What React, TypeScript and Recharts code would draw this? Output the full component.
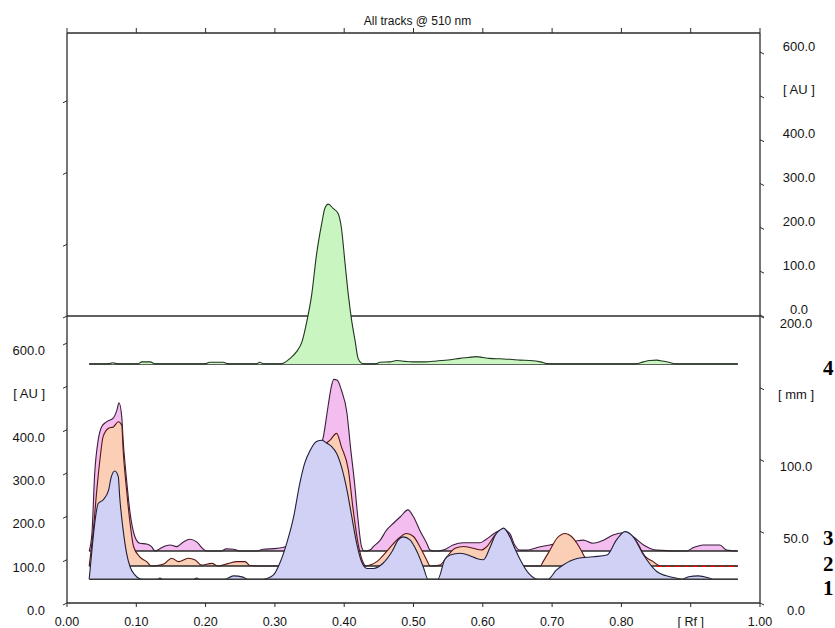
import React from 'react';
import { ComposedChart, Area, XAxis, YAxis } from 'recharts';

const TITLE = 'All tracks @ 510 nm';
const X_TICKS = [0, 0.1, 0.2, 0.3, 0.4, 0.5, 0.6, 0.7, 0.8, 0.9, 1.0];
const X_TICK_LABELS = ['0.00', '0.10', '0.20', '0.30', '0.40', '0.50', '0.60', '0.70', '0.80', '[ Rf ]', '1.00'];
const AU_TICKS = [0, 100, 200, 300, 400, 500, 600];
const AU_TICK_LABELS = ['0.0', '100.0', '200.0', '300.0', '400.0', '[ AU ]', '600.0'];
const MM_TICKS = [0, 50, 100, 150, 200];
const MM_TICK_LABELS = ['0.0', '50.0', '100.0', '[ mm ]', '200.0'];
const MM_LEFT_UPPER_TICKS = [200, 250, 300, 350];
const TRACK_NAMES = ['1', '2', '3', '4'];

// scale relations (lower-left AU scale is the plotting scale)
const Y_MAX = 1315.4;
const MM_TO_AU = 3.3115;
const TOP_ZERO = 664.6;
const TOP_SCALE = 1.0115;
const DIVIDER = 662.3;
const RF_START = 0.032;
const RF_END = 0.968;

// baselines of each track (AU, lower-left scale)
const OFFSET_1 = 54.7;
const OFFSET_2 = 85.4;
const OFFSET_3 = 120;
const OFFSET_4 = 551.5;

// [Rf, signal AU above the track baseline]
const TRACK_1: [number, number][] = [
  [0.032, 0], [0.036, 68], [0.040, 129], [0.045, 175], [0.052, 183], [0.060, 206], [0.064, 237], [0.069, 250],
  [0.074, 237], [0.076, 191], [0.081, 114], [0.086, 60], [0.091, 29], [0.098, 10], [0.108, 0], [0.130, 0],
  [0.134, 3], [0.139, 0], [0.182, 0], [0.187, 3], [0.192, 0], [0.228, 0], [0.240, 8], [0.254, 5], [0.261, 0],
  [0.281, 0], [0.288, 2], [0.298, 10], [0.307, 37], [0.317, 83], [0.327, 144], [0.336, 222], [0.343, 268],
  [0.351, 298], [0.360, 318], [0.368, 321], [0.375, 314], [0.382, 306], [0.389, 291], [0.396, 260], [0.404, 206],
  [0.411, 144], [0.418, 83], [0.425, 41], [0.433, 25], [0.442, 25], [0.456, 37], [0.469, 64], [0.478, 91],
  [0.485, 98], [0.495, 91], [0.505, 64], [0.514, 29], [0.521, 0], [0.535, 0], [0.545, 45], [0.553, 56],
  [0.567, 60], [0.582, 54], [0.591, 48], [0.601, 45], [0.610, 72], [0.618, 102], [0.625, 114], [0.630, 118],
  [0.639, 98], [0.646, 72], [0.654, 45], [0.666, 14], [0.675, 2], [0.680, 0], [0.694, 0], [0.706, 21],
  [0.716, 33], [0.736, 48], [0.759, 52], [0.779, 56], [0.793, 91], [0.805, 110], [0.817, 98], [0.832, 56],
  [0.851, 18], [0.870, 6], [0.882, 2], [0.887, 0], [0.897, 6], [0.911, 8], [0.928, 2], [0.932, 0], [0.968, 0],
];

const TRACK_2: [number, number][] = [
  [0.032, 0], [0.038, 83], [0.043, 175], [0.048, 252], [0.052, 298], [0.060, 318], [0.067, 321], [0.074, 333],
  [0.079, 325], [0.081, 268], [0.086, 175], [0.091, 99], [0.096, 45], [0.105, 21], [0.115, 10], [0.122, 0],
  [0.134, 2], [0.141, 6], [0.151, 18], [0.161, 10], [0.175, 18], [0.185, 14], [0.194, 2], [0.209, 6], [0.218, 0],
  [0.233, 6], [0.245, 10], [0.257, 10], [0.264, 1], [0.278, 0], [0.307, 0], [0.329, 60], [0.343, 141],
  [0.358, 222], [0.372, 279], [0.380, 291], [0.389, 306], [0.396, 275], [0.406, 222], [0.413, 129], [0.420, 52],
  [0.428, 6], [0.432, 0], [0.437, 2], [0.447, 10], [0.461, 33], [0.476, 60], [0.490, 75], [0.500, 68],
  [0.509, 45], [0.519, 14], [0.524, 0], [0.538, 2], [0.548, 21], [0.560, 41], [0.572, 45], [0.586, 41],
  [0.598, 37], [0.606, 45], [0.618, 72], [0.629, 83], [0.639, 67], [0.651, 14], [0.661, 0], [0.683, 0],
  [0.687, 10], [0.697, 37], [0.707, 64], [0.719, 75], [0.728, 68], [0.736, 52], [0.743, 33], [0.747, 21],
  [0.762, 9], [0.776, 14], [0.791, 41], [0.805, 72], [0.820, 60], [0.834, 23], [0.846, 10], [0.856, 0], [0.968, 0],
];

const TRACK_3: [number, number][] = [
  [0.032, 0], [0.036, 41], [0.040, 180], [0.045, 256], [0.050, 287], [0.057, 298], [0.067, 307], [0.072, 325],
  [0.075, 342], [0.079, 310], [0.081, 256], [0.086, 164], [0.091, 88], [0.098, 33], [0.105, 18], [0.115, 16],
  [0.122, 10], [0.127, 0], [0.134, 5], [0.139, 10], [0.149, 14], [0.158, 10], [0.168, 21], [0.177, 27],
  [0.187, 21], [0.197, 4], [0.202, 0], [0.222, 0], [0.230, 5], [0.240, 4], [0.250, 0], [0.275, 0], [0.283, 4],
  [0.303, 6], [0.317, 11], [0.329, 48], [0.343, 129], [0.358, 210], [0.370, 264], [0.377, 337], [0.381, 376],
  [0.385, 396], [0.390, 394], [0.396, 371], [0.404, 318], [0.409, 241], [0.415, 156], [0.420, 72], [0.425, 10],
  [0.429, 0], [0.437, 2], [0.442, 10], [0.452, 25], [0.461, 48], [0.471, 64], [0.481, 79], [0.492, 95],
  [0.500, 79], [0.509, 48], [0.519, 18], [0.524, 2], [0.531, 0], [0.543, 2], [0.557, 14], [0.572, 19],
  [0.596, 19], [0.603, 25], [0.618, 42], [0.629, 50], [0.639, 40], [0.646, 14], [0.654, 2], [0.663, 2],
  [0.683, 10], [0.697, 14], [0.711, 18], [0.733, 23], [0.745, 25], [0.759, 18], [0.774, 25], [0.788, 37],
  [0.805, 42], [0.817, 33], [0.832, 14], [0.851, 2], [0.894, 0], [0.904, 8], [0.918, 14], [0.942, 14],
  [0.952, 2], [0.968, 0],
];

const TRACK_4: [number, number][] = [
  [0.032, 0], [0.059, 0], [0.066, 3], [0.074, 0], [0.102, 0], [0.108, 5], [0.120, 5], [0.128, 0], [0.198, 0],
  [0.206, 4], [0.225, 4], [0.234, 0], [0.273, 0], [0.278, 4], [0.284, 0], [0.304, 0], [0.312, 2], [0.322, 13],
  [0.331, 28], [0.339, 51], [0.346, 98], [0.353, 159], [0.360, 252], [0.368, 328], [0.372, 359], [0.377, 369],
  [0.384, 359], [0.391, 348], [0.396, 314], [0.401, 236], [0.406, 159], [0.411, 98], [0.416, 51], [0.420, 13],
  [0.425, 2], [0.429, 0], [0.444, 0], [0.452, 4], [0.466, 5], [0.476, 8], [0.488, 6], [0.499, 5], [0.517, 5],
  [0.533, 7], [0.553, 10], [0.567, 13], [0.579, 15], [0.591, 17], [0.600, 15], [0.610, 13], [0.625, 12],
  [0.639, 11], [0.654, 9], [0.668, 8], [0.683, 5], [0.695, 0], [0.820, 0], [0.832, 5], [0.841, 8], [0.851, 9],
  [0.859, 7], [0.868, 4], [0.880, 0], [0.968, 0],
];

const toRows = (pts: [number, number][], off: number) => pts.map(([rf, h]) => ({ rf, v: off + h }));
const baseRows = (off: number, a = RF_START, b = RF_END) => [{ rf: a, v: off }, { rf: b, v: off }];

const rows1 = toRows(TRACK_1, OFFSET_1);
const rows2 = toRows(TRACK_2, OFFSET_2);
const rows3 = toRows(TRACK_3, OFFSET_3);
const rows4 = toRows(TRACK_4, OFFSET_4);

const FONT = '"Liberation Sans", Arial, sans-serif';
const AXIS = '#2b2b2b';
const TXT = '#141414';

type Def = { v: number; label: string; above: boolean };
const leftDefs: Def[] = [
  ...AU_TICKS.map((t, i) => ({ v: t, label: AU_TICK_LABELS[i], above: false })),
  ...MM_LEFT_UPPER_TICKS.map((m) => ({ v: m * MM_TO_AU, label: '', above: false })),
];
const rightDefs: Def[] = [
  ...MM_TICKS.map((m, i) => ({ v: m * MM_TO_AU, label: MM_TICK_LABELS[i], above: false })),
  ...AU_TICKS.map((t, i) => ({ v: TOP_ZERO + t * TOP_SCALE, label: AU_TICK_LABELS[i], above: true })),
];
const findDef = (defs: Def[], v: number) => defs.find((d) => Math.abs(d.v - v) < 0.05);

const LeftTick = (props: any) => {
  const { x, y, payload } = props;
  const d = findDef(leftDefs, payload.value);
  return (
    <g>
      <line x1={x - 4} y1={y + 2} x2={x} y2={y} stroke={AXIS} strokeWidth={1} />
      {d && d.label ? (
        <text x={x - 22} y={y + 12} textAnchor="end" fontSize={13} fontFamily={FONT} fill={TXT}>
          {d.label}
        </text>
      ) : null}
    </g>
  );
};

const RightTick = (props: any) => {
  const { x, y, payload } = props;
  const d = findDef(rightDefs, payload.value);
  if (!d) return <g />;
  return (
    <g>
      <line x1={x} y1={y} x2={x + 4} y2={y + 2} stroke={AXIS} strokeWidth={1} />
      <text
        x={d.above ? x + 39 : x + 36}
        y={d.above ? y - 1.5 : y + 11.5}
        textAnchor="middle"
        fontSize={13}
        fontFamily={FONT}
        fill={TXT}
      >
        {d.label}
      </text>
    </g>
  );
};

const BottomTick = (props: any) => {
  const { x, y, payload } = props;
  const i = X_TICKS.findIndex((t) => Math.abs(t - payload.value) < 1e-6);
  return (
    <g>
      <line x1={x} y1={y} x2={x} y2={y + 4} stroke={AXIS} strokeWidth={1} />
      <text x={x} y={y + 23} textAnchor="middle" fontSize={12.5} fontFamily={FONT} fill={TXT}>
        {i >= 0 ? X_TICK_LABELS[i] : ''}
      </text>
    </g>
  );
};

const TopTick = (props: any) => {
  const { x, y } = props;
  return <line x1={x} y1={y} x2={x} y2={y - 5} stroke={AXIS} strokeWidth={1} />;
};

export default function App() {
  return (
    <div style={{ position: 'absolute', left: 0, top: 0, width: 835, height: 628, background: '#fff' }}>
      <ComposedChart width={835} height={628} margin={{ top: 0, right: 0, bottom: 0, left: 0 }}>
        <XAxis
          xAxisId="b"
          dataKey="rf"
          type="number"
          domain={[0, 1]}
          ticks={X_TICKS}
          interval={0}
          height={25}
          tickSize={0}
          tickMargin={0}
          tickLine={false}
          tick={<BottomTick />}
          axisLine={{ stroke: AXIS, strokeWidth: 1.3 }}
          allowDataOverflow
        />
        <XAxis
          xAxisId="t"
          orientation="top"
          dataKey="rf"
          type="number"
          domain={[0, 1]}
          ticks={X_TICKS}
          interval={0}
          height={33}
          tickSize={0}
          tickMargin={0}
          tickLine={false}
          tick={<TopTick />}
          axisLine={{ stroke: AXIS, strokeWidth: 1.3 }}
          allowDataOverflow
        />
        <YAxis
          yAxisId="l"
          type="number"
          domain={[0, Y_MAX]}
          ticks={leftDefs.map((d) => d.v)}
          interval={0}
          width={67}
          tickSize={0}
          tickMargin={0}
          tickLine={false}
          tick={<LeftTick />}
          axisLine={{ stroke: AXIS, strokeWidth: 1.3 }}
          allowDataOverflow
        />
        <YAxis
          yAxisId="r"
          orientation="right"
          type="number"
          domain={[0, Y_MAX]}
          ticks={rightDefs.map((d) => d.v)}
          interval={0}
          width={75}
          tickSize={0}
          tickMargin={0}
          tickLine={false}
          tick={<RightTick />}
          axisLine={{ stroke: AXIS, strokeWidth: 1.3 }}
          allowDataOverflow
        />

        {/* divider between the two panels */}
        <Area xAxisId="b" yAxisId="r" data={baseRows(DIVIDER, 0, 1)} dataKey="v" type="linear" fill="none" stroke={AXIS} strokeWidth={1.3} isAnimationActive={false} dot={false} activeDot={false} />

        {/* track 3 */}
        <Area xAxisId="b" yAxisId="l" data={rows3} dataKey="v" type="monotone" baseValue={OFFSET_3} fill="#f3bdef" fillOpacity={1} stroke="#3b1f3b" strokeWidth={1.1} isAnimationActive={false} dot={false} activeDot={false} />
        <Area xAxisId="b" yAxisId="l" data={baseRows(OFFSET_3)} dataKey="v" type="linear" fill="none" stroke="#2a2a2a" strokeWidth={1.3} isAnimationActive={false} dot={false} activeDot={false} />

        {/* track 2 */}
        <Area xAxisId="b" yAxisId="l" data={rows2} dataKey="v" type="monotone" baseValue={OFFSET_2} fill="#fbcfb6" fillOpacity={1} stroke="#5a1414" strokeWidth={1.1} isAnimationActive={false} dot={false} activeDot={false} />
        <Area xAxisId="b" yAxisId="l" data={baseRows(OFFSET_2)} dataKey="v" type="linear" fill="none" stroke="#2a2a2a" strokeWidth={1.3} isAnimationActive={false} dot={false} activeDot={false} />
        <Area xAxisId="b" yAxisId="l" data={baseRows(OFFSET_2 - 0.8, 0.85, RF_END)} dataKey="v" type="linear" fill="none" stroke="#e01010" strokeDasharray="6 3" strokeWidth={1.2} isAnimationActive={false} dot={false} activeDot={false} />

        {/* track 1 */}
        <Area xAxisId="b" yAxisId="l" data={rows1} dataKey="v" type="monotone" baseValue={OFFSET_1} fill="#d0d1f4" fillOpacity={1} stroke="#1f1f3a" strokeWidth={1.1} isAnimationActive={false} dot={false} activeDot={false} />
        <Area xAxisId="b" yAxisId="l" data={baseRows(OFFSET_1)} dataKey="v" type="linear" fill="none" stroke="#3a3a3a" strokeWidth={1.5} isAnimationActive={false} dot={false} activeDot={false} />

        {/* track 4 */}
        <Area xAxisId="b" yAxisId="l" data={baseRows(OFFSET_4)} dataKey="v" type="linear" fill="none" stroke="#2a2a2a" strokeWidth={1.3} isAnimationActive={false} dot={false} activeDot={false} />
        <Area xAxisId="b" yAxisId="l" data={rows4} dataKey="v" type="monotone" baseValue={OFFSET_4} fill="#c9f5c0" fillOpacity={1} stroke="#1e361e" strokeWidth={1.1} isAnimationActive={false} dot={false} activeDot={false} />
      </ComposedChart>

      <svg width={835} height={628} style={{ position: 'absolute', left: 0, top: 0, pointerEvents: 'none' }}>
        <text x={417.5} y={25} textAnchor="middle" fontSize={12} fontFamily={FONT} fill={TXT}>
          {TITLE}
        </text>
        {[
          { n: TRACK_NAMES[3], y: 375 },
          { n: TRACK_NAMES[2], y: 545 },
          { n: TRACK_NAMES[1], y: 570.5 },
          { n: TRACK_NAMES[0], y: 595 },
        ].map((t) => (
          <text key={t.n} x={823} y={t.y} fontSize={21} fontWeight="bold" fontFamily='"Liberation Serif", "Times New Roman", serif' fill="#000">
            {t.n}
          </text>
        ))}
      </svg>
    </div>
  );
}
